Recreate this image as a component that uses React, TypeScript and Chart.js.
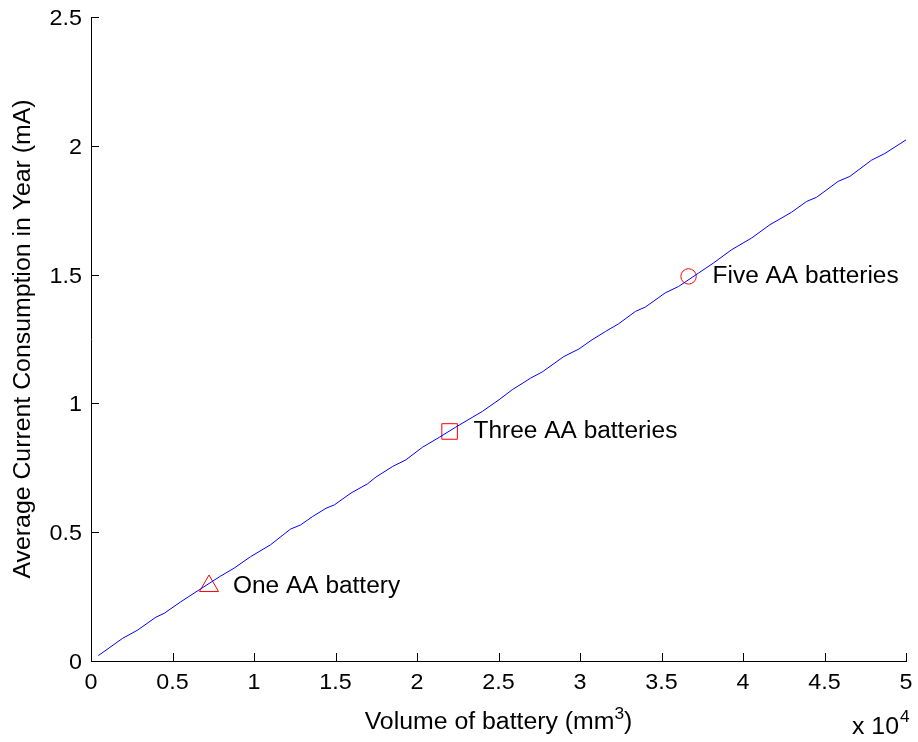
import React, { useEffect, useRef } from 'react';
import { Chart, registerables } from 'chart.js';

Chart.register(...registerables);

// Volume of battery (x 10^4 mm^3)
const volumeX = [
  0.045, 0.194, 0.286, 0.398, 0.449, 0.551, 0.663, 0.796, 0.877, 0.979,
  1.101, 1.224, 1.285, 1.36, 1.442, 1.493, 1.595, 1.697, 1.748, 1.85,
  1.932, 2.034, 2.136, 2.238, 2.401, 2.503, 2.584, 2.697, 2.768, 2.901,
  2.993, 3.074, 3.156, 3.237, 3.34, 3.401, 3.523, 3.605, 3.727, 3.819,
  3.931, 4.053, 4.166, 4.298, 4.39, 4.451, 4.584, 4.655, 4.788, 4.87, 5.0,
];
// Average current consumption in year (mA)
const currentY = [
  0.021, 0.088, 0.12, 0.17, 0.185, 0.23, 0.276, 0.33, 0.36, 0.405,
  0.451, 0.512, 0.528, 0.561, 0.593, 0.606, 0.652, 0.688, 0.714, 0.755,
  0.781, 0.83, 0.868, 0.908, 0.969, 1.014, 1.053, 1.098, 1.122, 1.182,
  1.211, 1.247, 1.279, 1.309, 1.357, 1.374, 1.429, 1.454, 1.506, 1.545,
  1.597, 1.642, 1.694, 1.742, 1.784, 1.8, 1.862, 1.881, 1.944, 1.97, 2.023,
];

const markerLabels = ['One AA battery', 'Three AA batteries', 'Five AA batteries'];
const markerX = [0.724, 2.2, 3.666];
const markerY = [0.291, 0.891, 1.493];
const markerStyles = ['triangle', 'rect', 'circle'];
const markerRadii = [11, 11, 7.7];

const xTicks = [0, 0.5, 1, 1.5, 2, 2.5, 3, 3.5, 4, 4.5, 5];
const yTicks = [0, 0.5, 1, 1.5, 2, 2.5];

const xTitle = 'Volume of battery (mm';
const xTitleSup = '3';
const xTitleEnd = ')';
const yTitle = 'Average Current Consumption in Year (mA)';
const xExponentBase = 'x 10';
const xExponent = '4';

const FONT = '"Liberation Sans", Arial, Helvetica, sans-serif';

function measure(ctx: CanvasRenderingContext2D, text: string, size: number, stretch: number) {
  ctx.font = `${size}px ${FONT}`;
  return ctx.measureText(text).width * stretch;
}

function drawText(
  ctx: CanvasRenderingContext2D,
  text: string,
  x: number,
  y: number,
  size: number,
  stretch: number,
  align: 'left' | 'center' | 'right' = 'left',
) {
  ctx.save();
  ctx.font = `${size}px ${FONT}`;
  ctx.textAlign = align;
  ctx.textBaseline = 'alphabetic';
  ctx.translate(x, y);
  ctx.scale(stretch, 1);
  ctx.fillText(text, 0, 0);
  ctx.restore();
}

const TICK_SIZE = 22;
const TICK_STRETCH = 1.06;
const NOTE_SIZE = 23.5;
const NOTE_STRETCH = 1.04;
const TITLE_SIZE = 23;
const TITLE_STRETCH = 1.08;
const SUP_SIZE = 16;

const decorPlugin = {
  id: 'decor',
  afterDraw(chart: any) {
    const ctx = chart.ctx as CanvasRenderingContext2D;
    const xs = chart.scales.x;
    const ys = chart.scales.y;
    const { left, right, top, bottom } = chart.chartArea;
    ctx.save();
    // inward ticks
    ctx.strokeStyle = '#000';
    ctx.lineWidth = 1;
    ctx.beginPath();
    xTicks.forEach((v) => {
      const px = Math.round(xs.getPixelForValue(v)) + 0.5;
      ctx.moveTo(px, bottom);
      ctx.lineTo(px, bottom - 8);
    });
    yTicks.forEach((v) => {
      const py = Math.round(ys.getPixelForValue(v)) + 0.5;
      ctx.moveTo(left, py);
      ctx.lineTo(left + 8, py);
    });
    ctx.stroke();

    ctx.fillStyle = '#000';
    // tick labels
    xTicks.forEach((v) => {
      drawText(ctx, String(v), xs.getPixelForValue(v), bottom + 28, TICK_SIZE, TICK_STRETCH, 'center');
    });
    yTicks.forEach((v) => {
      drawText(ctx, String(v), left - 9, ys.getPixelForValue(v) + 8, TICK_SIZE, TICK_STRETCH, 'right');
    });

    // annotations
    markerLabels.forEach((t, i) => {
      const px = xs.getPixelForValue(markerX[i]);
      const py = ys.getPixelForValue(markerY[i]);
      drawText(ctx, t, px + 24, py + 7, NOTE_SIZE, NOTE_STRETCH, 'left');
    });

    // x title with superscript
    const w1 = measure(ctx, xTitle, TITLE_SIZE, TITLE_STRETCH);
    const w2 = measure(ctx, xTitleSup, SUP_SIZE, TITLE_STRETCH);
    const w3 = measure(ctx, xTitleEnd, TITLE_SIZE, TITLE_STRETCH);
    const cx = (left + right) / 2;
    const x0 = cx - (w1 + w2 + w3) / 2;
    const base = 729;
    drawText(ctx, xTitle, x0, base, TITLE_SIZE, TITLE_STRETCH);
    drawText(ctx, xTitleSup, x0 + w1, base - 10, SUP_SIZE, TITLE_STRETCH);
    drawText(ctx, xTitleEnd, x0 + w1 + w2, base, TITLE_SIZE, TITLE_STRETCH);

    // exponent label
    const we = measure(ctx, xExponentBase, TITLE_SIZE, TITLE_STRETCH);
    drawText(ctx, xExponentBase, 852, 734, TITLE_SIZE, TITLE_STRETCH);
    drawText(ctx, xExponent, 852 + we + 1, 722, SUP_SIZE, TITLE_STRETCH);

    // y title
    ctx.save();
    ctx.translate(30, (top + bottom) / 2);
    ctx.rotate(-Math.PI / 2);
    drawText(ctx, yTitle, 0, 0, TITLE_SIZE, TITLE_STRETCH, 'center');
    ctx.restore();
    ctx.restore();
  },
};

export default function App() {
  const ref = useRef<HTMLCanvasElement>(null);
  useEffect(() => {
    if (!ref.current) return;
    const chart = new Chart(ref.current, {
      type: 'scatter',
      data: {
        datasets: [
          {
            data: volumeX.map((x, i) => ({ x, y: currentY[i] })),
            showLine: true,
            borderColor: '#0000ff',
            borderWidth: 1,
            pointRadius: 0,
            fill: false,
            tension: 0,
          },
          {
            data: markerX.map((x, i) => ({ x, y: markerY[i] })),
            showLine: false,
            pointStyle: markerStyles as any,
            pointRadius: markerRadii,
            borderColor: '#ff0000',
            backgroundColor: 'rgba(0,0,0,0)',
            borderWidth: 1,
          },
        ],
      },
      options: {
        animation: false,
        responsive: false,
        events: [],
        layout: { padding: { top: 17, right: 10, left: 0, bottom: 0 } },
        plugins: { legend: { display: false }, tooltip: { enabled: false } },
        scales: {
          x: {
            type: 'linear',
            min: 0,
            max: 5,
            ticks: { display: false },
            grid: { display: false },
            border: { display: true, color: '#000', width: 1 },
            afterFit: (s: any) => {
              s.height = 81;
              s.paddingLeft = 0;
              s.paddingRight = 0;
            },
          },
          y: {
            type: 'linear',
            min: 0,
            max: 2.5,
            ticks: { display: false },
            grid: { display: false },
            border: { display: true, color: '#000', width: 1 },
            afterFit: (s: any) => {
              s.width = 91;
              s.paddingTop = 0;
              s.paddingBottom = 0;
            },
          },
        },
      },
      plugins: [decorPlugin],
    });
    return () => chart.destroy();
  }, []);
  return (
    <div style={{ position: 'absolute', left: 0, top: 0, width: 918, height: 742, background: '#fff' }}>
      <canvas ref={ref} width={918} height={742} style={{ width: 918, height: 742, display: 'block' }} />
    </div>
  );
}
